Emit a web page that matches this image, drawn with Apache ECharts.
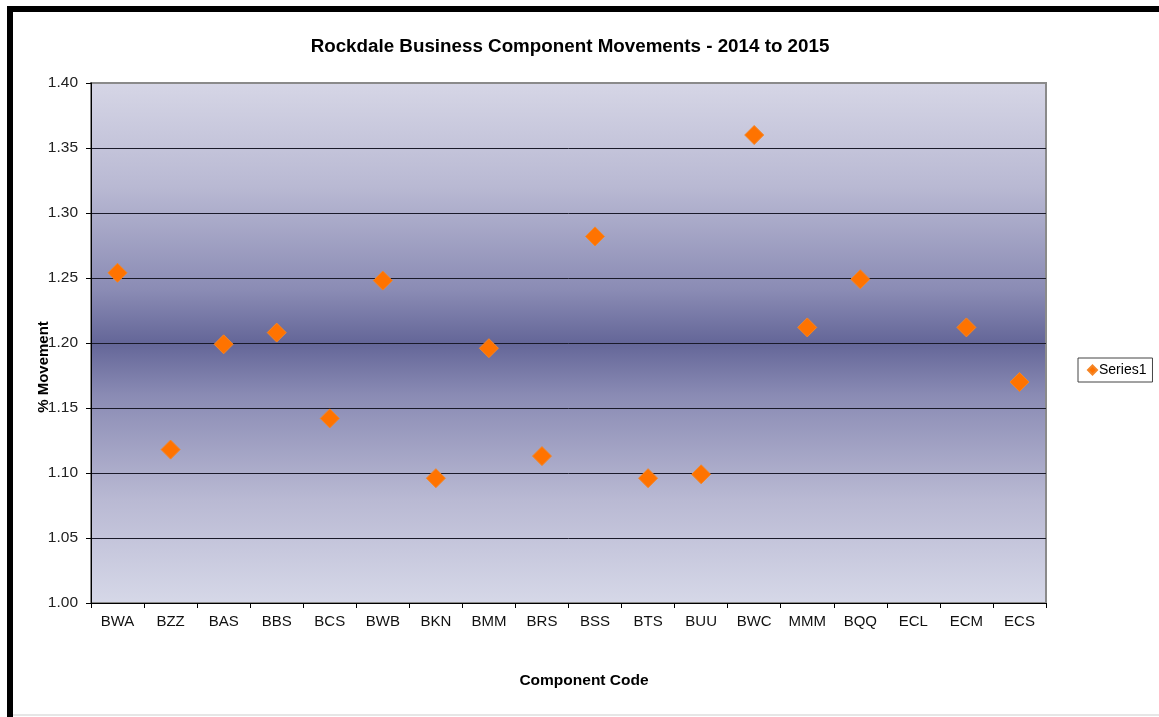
<!DOCTYPE html>
<html>
<head>
<meta charset="utf-8">
<script src="https://cdn.jsdelivr.net/npm/echarts@6/dist/echarts.min.js"></script>
<style>
  html, body { margin: 0; padding: 0; background: #ffffff; }
  #chart { width: 1159px; height: 717px; }
</style>
</head>
<body>
<div id="chart"></div>
<script>
// Component codes along the x axis
const categories = ['BWA', 'BZZ', 'BAS', 'BBS', 'BCS', 'BWB', 'BKN', 'BMM', 'BRS',
                    'BSS', 'BTS', 'BUU', 'BWC', 'MMM', 'BQQ', 'ECL', 'ECM', 'ECS'];

// Movement ratio 2014 -> 2015 per component (ECL has no value)
const series1 = [1.254, 1.118, 1.199, 1.208, 1.142, 1.248, 1.096, 1.196, 1.113,
                 1.282, 1.096, 1.099, 1.360, 1.212, 1.249, null, 1.212, 1.170];

// Value axis range and step
const yMin = 1.00;
const yMax = 1.40;
const yStep = 0.05;

const chart = echarts.init(document.getElementById('chart'), null, { renderer: 'canvas' });

const font = 'Arial, "Liberation Sans", sans-serif';

// gridlines are dark, except the top one which merges with the plot border
const gridColors = ['#1a1a2a', '#1a1a2a', '#1a1a2a', '#1a1a2a', '#1a1a2a',
                    '#1a1a2a', '#1a1a2a', '#1a1a2a', '#8a8a8a'];

chart.setOption({
  animation: false,
  backgroundColor: '#ffffff',
  title: {
    text: 'Rockdale Business Component Movements - 2014 to 2015',
    left: 565,
    textAlign: 'center',
    top: 32,
    textStyle: { fontFamily: font, fontSize: 18.8, fontWeight: 'bold', color: '#000000' }
  },
  legend: {
    data: [{ name: 'Series1', icon: 'diamond' }],
    left: 1078,
    top: 358,
    orient: 'vertical',
    itemWidth: 9,
    itemHeight: 9,
    itemGap: 0,
    padding: [5, 6, 5, 9],
    borderColor: '#444444',
    borderWidth: 1,
    backgroundColor: '#ffffff',
    textStyle: { fontFamily: font, fontSize: 14, color: '#000000', padding: [0, 0, 0, -3] }
  },
  grid: {
    left: 91,
    right: 113,
    top: 83,
    bottom: 114,
    show: true,
    borderColor: '#8a8a8a',
    borderWidth: 2,
    backgroundColor: {
      type: 'linear', x: 0, y: 0, x2: 0, y2: 1,
      colorStops: [
        { offset: 0.00, color: '#d6d6e6' },
        { offset: 0.20, color: '#b9b9d3' },
        { offset: 0.40, color: '#8a8bb4' },
        { offset: 0.50, color: '#646698' },
        { offset: 0.60, color: '#8a8bb4' },
        { offset: 0.80, color: '#b9b9d3' },
        { offset: 1.00, color: '#d6d8e8' }
      ]
    }
  },
  xAxis: {
    type: 'category',
    data: categories,
    boundaryGap: true,
    axisLine: { show: true, lineStyle: { color: '#000000', width: 1 } },
    axisTick: { show: true, alignWithLabel: false, length: 5, lineStyle: { color: '#000000' } },
    axisLabel: { fontFamily: font, fontSize: 15, color: '#111111', margin: 11, interval: 0 },
    splitLine: { show: false }
  },
  yAxis: {
    type: 'value',
    min: yMin,
    max: yMax,
    interval: yStep,
    axisLine: { show: true, lineStyle: { color: '#000000', width: 1 } },
    axisTick: { show: true, inside: false, length: 5, lineStyle: { color: '#000000' } },
    axisLabel: {
      fontFamily: font, fontSize: 15.5, color: '#222222', margin: 13,
      formatter: v => v.toFixed(2)
    },
    splitLine: { show: true, lineStyle: { color: gridColors, width: 1 } }
  },
  series: [{
    name: 'Series1',
    type: 'scatter',
    data: series1,
    symbol: 'diamond',
    symbolSize: 19,
    itemStyle: { color: '#ff7300', borderColor: '#f58525', borderWidth: 1, opacity: 1 }
  }],
  graphic: [
    // axis titles
    { type: 'text', silent: true, z: 50,
      x: 44, y: 367, rotation: Math.PI / 2,
      style: { text: '% Movement', fontFamily: font, fontSize: 15, fontWeight: 'bold',
               fill: '#000000', align: 'center', verticalAlign: 'middle' } },
    { type: 'text', silent: true, z: 50,
      x: 584, y: 681,
      style: { text: 'Component Code', fontFamily: font, fontSize: 15.5, fontWeight: 'bold',
               fill: '#000000', align: 'center', verticalAlign: 'middle' } },
    // outer frame
    { type: 'rect', silent: true, z: 100,
      shape: { x: 10, y: 9, width: 1200, height: 760 },
      style: { fill: 'none', stroke: '#000000', lineWidth: 6 } },
    { type: 'line', silent: true, z: 100,
      shape: { x1: 13, y1: 715, x2: 1159, y2: 715 },
      style: { stroke: '#e6e6e6', lineWidth: 2 } }
  ]
});
</script>
</body>
</html>
